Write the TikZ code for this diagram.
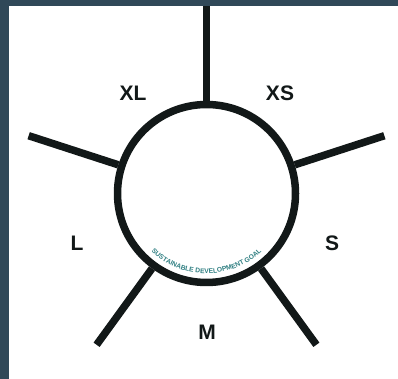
\documentclass[tikz,border=0pt]{standalone}
\usepackage{fontspec}
\setmainfont{Liberation Sans}
\usetikzlibrary{decorations.text,calc}
\definecolor{frame}{HTML}{304858}
\definecolor{ink}{HTML}{121818}
\definecolor{teal}{HTML}{2F7F82}
\tikzset{
  spoke/.style={draw=ink,line width=7.5pt},
  lab/.style={font=\fontsize{21}{21}\selectfont\bfseries,text=ink,inner sep=0pt},
}
\begin{document}
\begin{tikzpicture}[x=1pt,y=1pt]
\useasboundingbox (0,0) rectangle (398,379);
\fill[frame] (0,0) rectangle (398,379);
\fill[white] (9,0) rectangle (398,373);
\node[circle,draw=ink,line width=7.5pt,minimum size=178pt,inner sep=0pt] (c) at (206.5,185.5) {};
\foreach \a/\n in {90/t,162/ul,234/ll,306/lr,18/ur}{
  \coordinate (e\n) at ($(c.center)+(\a:187)$);
  \draw[spoke] (c.\a) -- (e\n);
}
\fill[frame] (9,373) rectangle (398,379);
\node[lab] (xl) at (133,286) {XL};
\node[lab] (xs) at (280,286) {XS};
\node[lab] (l) at (77,136) {L};
\node[lab] (s) at (332,136) {S};
\node[lab] (m) at (207,47) {M};
\path[decorate,decoration={text along path,text align=center,
  text={|\fontsize{6.7}{6.7}\selectfont\bfseries\color{teal}|SUSTAINABLE DEVELOPMENT GOAL}}]
  ($(c.center)+(220:80)$) arc[start angle=220,end angle=320,radius=80];
\end{tikzpicture}
\end{document}
